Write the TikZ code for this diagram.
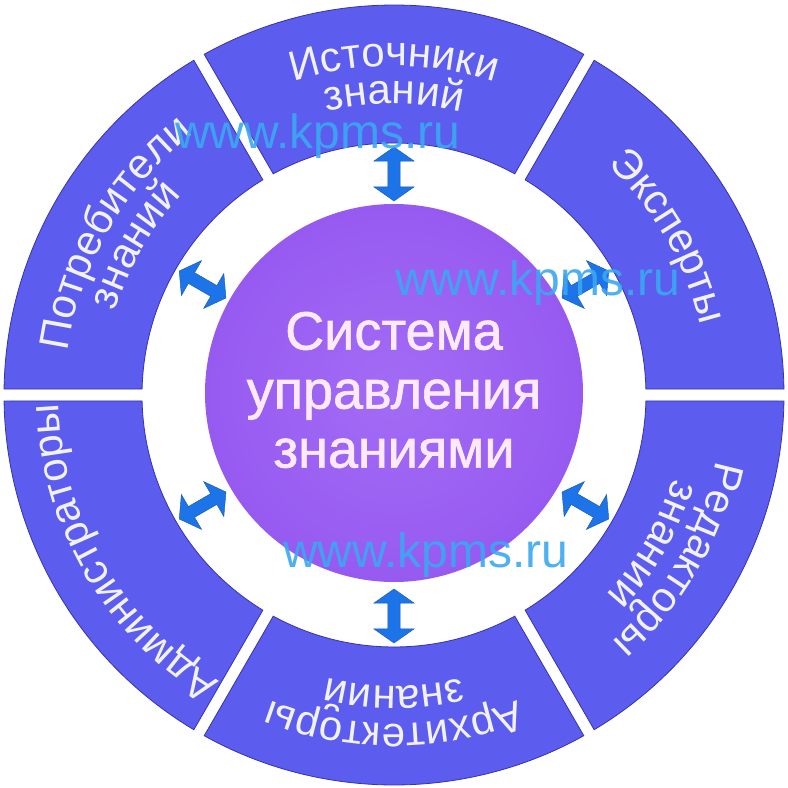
\documentclass[tikz,border=0pt]{standalone}
\usepackage{fontspec}
\newfontfamily\arialf{Liberation Sans}
\newfontfamily\arialcore[FakeBold=1.2]{Liberation Sans}
\usetikzlibrary{shapes.arrows,decorations.text}
\definecolor{ringcol}{HTML}{5C5CEE}
\definecolor{ringedge}{HTML}{3434B0}
\definecolor{corecol}{HTML}{975AF1}
\definecolor{corelight}{HTML}{A26CF5}
\definecolor{coretext}{HTML}{FCEAFA}
\definecolor{lbl}{HTML}{F2F2FF}
\definecolor{arrowcol}{HTML}{1C74E8}
\definecolor{wmcol}{HTML}{3AA8F2}
\newcommand\lblfont{\arialf\fontsize{42}{42}\selectfont}
\newcommand\ringseg[2]{%
  \path[fill=ringcol, draw=ringedge, line width=0.8pt]
    ({#1+asin(6/390)}:390pt) arc[start angle={#1+asin(6/390)}, end angle={#2-asin(6/390)}, radius=390pt]
    -- ({#2-asin(6/252)}:252pt) arc[start angle={#2-asin(6/252)}, end angle={#1+asin(6/252)}, radius=252pt]
    -- cycle;}
\newcommand\seglabel[3]{%
  \path[decorate, decoration={text along path, text align=center, text color=lbl, text={|\lblfont|#3}}]
    ({#1+45}:#2) arc[start angle={#1+45}, end angle={#1-45}, radius=#2];}
\begin{document}
\begin{tikzpicture}[x=1pt,y=1pt,
  core/.style={circle, minimum size=378pt, inner sep=0pt, inner color=corelight, outer color=corecol},
  coretxt/.style={text=coretext, font=\arialcore\fontsize{54}{59}\selectfont, align=center, inner sep=0pt},
  biarrow/.style={shape=double arrow, double arrow head extend=14pt, double arrow tip angle=110,
    inner xsep=0pt, inner ysep=6pt, minimum height=54pt, fill=arrowcol, draw=arrowcol!75!black, line width=0.4pt},
  wm/.style={text=wmcol, font=\arialf\fontsize{48}{48}\selectfont, anchor=base west, inner sep=0pt, opacity=0.9}]
\fill[white] (-394,-393) rectangle (394,395);
\useasboundingbox (-394,-393) rectangle (394,395);
% ring segments
\ringseg{0}{60}
\ringseg{60}{120}
\ringseg{120}{180}
\ringseg{180}{240}
\ringseg{240}{300}
\ringseg{300}{360}
% labels
\seglabel{90}{329pt}{Источники}
\seglabel{90}{291pt}{знаний}
\seglabel{30}{314pt}{Эксперты}
\seglabel{150}{329pt}{Потребители}
\seglabel{150}{291pt}{знаний}
\seglabel{210}{335pt}{Администраторы}
\seglabel{270}{329pt}{Архитекторы}
\seglabel{270}{291pt}{знаний}
\seglabel{330}{329pt}{Редакторы}
\seglabel{330}{291pt}{знаний}
% centre
\node[core] (core) at (0,2) {};
\node[coretxt] (coretext) at (0,5) {Система\\управления\\знаниями};
% arrows
\foreach \a in {30,90,150,210,270,330}{
  \node[biarrow, rotate=\a] (arr\a) at (\a:221pt) {};
}
% watermarks
\node[wm] (wm1) at (-219,247) {www.kpms.ru};
\node[wm] (wm2) at (1,100) {www.kpms.ru};
\node[wm] (wm3) at (-111,-172) {www.kpms.ru};
\end{tikzpicture}
\end{document}
